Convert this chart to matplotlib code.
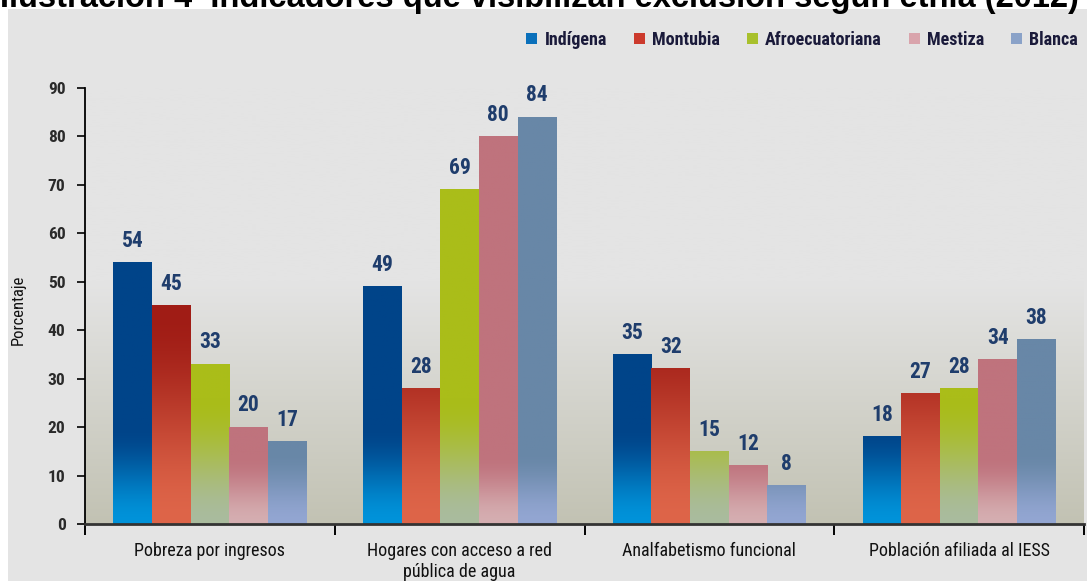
import numpy as np
import matplotlib
matplotlib.use('Agg')
import matplotlib.pyplot as plt
from matplotlib.patches import Patch, Rectangle
from matplotlib.colors import to_rgb

plt.rcParams['font.family'] = ['Roboto Condensed', 'Liberation Sans', 'DejaVu Sans']

# data
categories = ['Pobreza por ingresos', 'Hogares con acceso a red\npública de agua',
              'Analfabetismo funcional', 'Población afiliada al IESS']
series = ['Indígena', 'Montubia', 'Afroecuatoriana', 'Mestiza', 'Blanca']
indigena = [54, 49, 35, 18]
montubia = [45, 28, 32, 27]
afro = [33, 69, 15, 28]
mestiza = [20, 80, 12, 34]
blanca = [17, 84, 8, 38]
values = [indigena, montubia, afro, mestiza, blanca]

# colours: top colour, bottom colour, height where fade starts, legend colour
top_cols = ['#004489', '#a01c15', '#aabd19', '#bf737d', '#6887a7']
bot_cols = ['#0093da', '#de6549', '#a9bb9e', '#d5aeb1', '#93a6d2']
fade_to = [20, 44, 26, 14, 15]
leg_cols = ['#0a70bb', '#cc3a2c', '#a8c02c', '#d9a4ac', '#8aa2c8']

fig = plt.figure(figsize=(10.87, 5.81), dpi=100)
fig.patch.set_facecolor('white')
fig.patches.append(Rectangle((8 / 1087, 0), 1, 1 - 9 / 581, transform=fig.transFigure,
                             facecolor='#e4e4e4', edgecolor='none', zorder=-5))
fig.text(0.0, 1 - 7 / 581, 'Ilustración 4  Indicadores que visibilizan exclusión según etnia (2012)',
         family=['Liberation Sans', 'DejaVu Sans'], fontweight='bold', fontsize=23.5,
         va='baseline', ha='left', color='black')

ax = fig.add_axes([85 / 1087, 1 - 524 / 581, 999 / 1087, 436 / 581])
ax.set_facecolor('none')

# plot area background gradient
yy = np.linspace(0, 90, 300)
t = np.clip(yy / 50, 0, 1)[:, None]
bg = (1 - t) * np.array(to_rgb('#c2c2b3')) + t * np.array(to_rgb('#e4e4e4'))
ax.imshow(bg[:, None, :], extent=[-0.5, 3.5, 0, 90], origin='lower', aspect='auto', zorder=0)

w = 0.1545
for i, vals in enumerate(values):
    top = np.array(to_rgb(top_cols[i]))
    bot = np.array(to_rgb(bot_cols[i]))
    for j, v in enumerate(vals):
        x0 = j + (i - 2) * w - w / 2
        ys = np.linspace(0, v, 200)
        s = np.clip(ys / fade_to[i], 0, 1)
        s = s * s * (3 - 2 * s)
        img = (1 - s)[:, None] * bot + s[:, None] * top
        ax.imshow(img[:, None, :], extent=[x0, x0 + w, 0, v], origin='lower',
                  aspect='auto', zorder=2)
        ax.text(j + (i - 2) * w, v + 2.2, str(v), ha='center', va='bottom',
                fontsize=15.5, fontweight='bold', color='#1f3d6c', zorder=3)

ax.set_xlim(-0.5, 3.5)
ax.set_ylim(0, 90)

for s in ['top', 'right']:
    ax.spines[s].set_visible(False)
ax.spines['left'].set_linewidth(1.3)
ax.spines['bottom'].set_linewidth(2)
ax.spines['bottom'].set_color('#333333')
ax.spines['bottom'].set_zorder(4)

ax.set_yticks(range(0, 91, 10))
ax.tick_params(axis='y', direction='out', length=6, width=1.2, labelsize=12.5,
               labelcolor='#2a2a2a', pad=8)
for lab in ax.get_yticklabels():
    lab.set_fontweight('bold')

ax.set_xticks([-0.5, 0.5, 1.5, 2.5, 3.5])
ax.set_xticklabels([])
ax.set_xticks(range(4), minor=True)
ax.set_xticklabels(categories, minor=True, fontsize=13, color='#111111')
ax.tick_params(axis='x', which='major', direction='out', length=8, width=1.4)
ax.tick_params(axis='x', which='minor', length=0, pad=13)

fig.text(18 / 1087, 1 - 310 / 581, 'Porcentaje', rotation=90, ha='center', va='center',
         fontsize=12, color='#111111')

handles = [Patch(facecolor=c, edgecolor='none', label=n) for c, n in zip(leg_cols, series)]
fig.legend(handles=handles, loc='center right', bbox_to_anchor=(1.0, 1 - 40 / 581),
           ncol=5, frameon=False, handlelength=0.6, handleheight=0.6,
           handletextpad=0.4, columnspacing=1.5, borderaxespad=0.1,
           prop={'weight': 'bold', 'size': 13})
for txt in fig.legends[0].get_texts():
    txt.set_color('#1a1a3a')

fig.savefig('out.png', dpi=100)
